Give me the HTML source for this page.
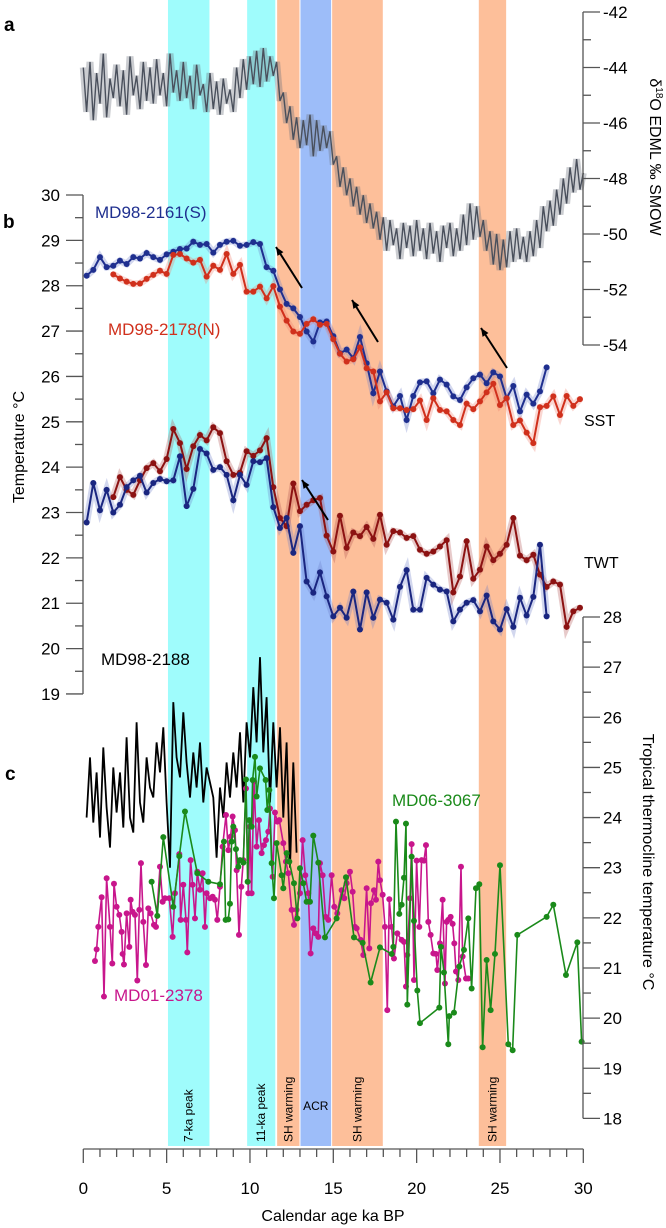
<!DOCTYPE html>
<html><head><meta charset="utf-8"><style>
html,body{margin:0;padding:0;background:#fff;}
svg{display:block;font-family:"Liberation Sans",Arial,sans-serif;}
</style></head><body>
<svg id="chart" width="666" height="1228" viewBox="0 0 666 1228" xmlns="http://www.w3.org/2000/svg">
<g id="bands"></g>
<g id="plot"></g>
<g id="axes"></g>
<text x="4" y="31" font-size="19" font-weight="bold">a</text>
<text x="3" y="228" font-size="19" font-weight="bold">b</text>
<text x="5" y="780" font-size="19" font-weight="bold">c</text>
<text x="95" y="218" font-size="17" fill="#1f2f8f">MD98-2161(S)</text>
<text x="108" y="335" font-size="17" fill="#d0301c">MD98-2178(N)</text>
<text x="584" y="426" font-size="16">SST</text>
<text x="584" y="568" font-size="16">TWT</text>
<text x="101" y="665" font-size="17">MD98-2188</text>
<text x="114" y="1001" font-size="17" fill="#c8168c">MD01-2378</text>
<text x="392" y="806" font-size="17" fill="#1a8a1a">MD06-3067</text>
<text transform="translate(650,157) rotate(90)" text-anchor="middle" font-size="16">δ<tspan font-size="10" dy="-6">18</tspan><tspan dy="6">O EDML ‰ SMOW</tspan></text>
<text transform="translate(24,447) rotate(-90)" text-anchor="middle" font-size="16">Temperature °C</text>
<text transform="translate(643,862) rotate(90)" text-anchor="middle" font-size="16">Tropical thermocline temperature °C</text>
<text x="333" y="1221" text-anchor="middle" font-size="16">Calendar age ka BP</text>
</svg>
<script>
const NS="http://www.w3.org/2000/svg";
const bandStart=[5.05,9.8,11.6,13.0,14.9,23.7];
const bandEnd=[7.6,11.55,13.0,14.9,18.0,25.4];
const bandColor=["#9ffcfc","#9ffcfc","#fdbf9a","#9dbdf9","#fdbf9a","#fdbf9a"];
const bandLabel=["7-ka peak","11-ka peak","SH warming","ACR","SH warming","SH warming"];

const edmlAge=[0,0.2,0.4,0.6,0.8,1,1.2,1.4,1.6,1.8,2,2.2,2.4,2.6,2.8,3,3.2,3.4,3.6,3.8,4,4.2,4.4,4.6,4.8,5,5.2,5.4,5.6,5.8,6,6.2,6.4,6.6,6.8,7,7.2,7.4,7.6,7.8,8,8.2,8.4,8.6,8.8,9,9.2,9.4,9.6,9.8,10,10.2,10.4,10.6,10.8,11,11.2,11.4,11.6,11.8,12,12.2,12.4,12.6,12.8,13,13.2,13.4,13.6,13.8,14,14.2,14.4,14.6,14.8,15,15.2,15.4,15.6,15.8,16,16.2,16.4,16.6,16.8,17,17.2,17.4,17.6,17.8,18,18.2,18.4,18.6,18.8,19,19.2,19.4,19.6,19.8,20,20.2,20.4,20.6,20.8,21,21.2,21.4,21.6,21.8,22,22.2,22.4,22.6,22.8,23,23.2,23.4,23.6,23.8,24,24.2,24.4,24.6,24.8,25,25.2,25.4,25.6,25.8,26,26.2,26.4,26.6,26.8,27,27.2,27.4,27.6,27.8,28,28.2,28.4,28.6,28.8,29,29.2,29.4,29.6,29.8,30];
const edmlVal=[-44.0,-45.6,-43.8,-45.9,-44.2,-45.3,-43.5,-45.8,-44.4,-45.1,
-43.9,-45.4,-44.1,-45.7,-43.6,-45.0,-44.3,-45.5,-43.8,-45.2,
-44.0,-45.3,-43.7,-45.0,-44.2,-45.4,-43.5,-44.9,-44.1,-45.2,
-43.8,-45.1,-44.3,-45.5,-43.9,-45.0,-44.6,-45.6,-44.2,-45.5,
-44.5,-45.7,-44.4,-45.3,-44.8,-45.6,-44.0,-45.1,-43.7,-44.8,
-43.6,-44.6,-43.4,-44.7,-43.3,-44.5,-43.6,-44.3,-43.8,-45.2,
-44.9,-46.0,-45.4,-46.6,-45.8,-46.9,-45.9,-46.8,-45.7,-47.2,
-45.9,-47.0,-46.1,-46.9,-46.3,-47.5,-47.2,-48.3,-47.6,-48.6,
-48.0,-49.0,-48.3,-49.3,-48.6,-49.6,-48.9,-49.8,-49.2,-50.2,
-49.4,-50.6,-49.5,-50.4,-49.8,-50.9,-49.6,-50.5,-49.7,-50.8,
-49.5,-50.6,-49.8,-50.9,-49.6,-50.7,-49.9,-51.0,-49.7,-50.5,
-49.6,-50.8,-49.8,-50.6,-49.3,-50.4,-48.9,-50.2,-49.0,-50.1,
-49.5,-50.6,-49.9,-51.1,-50.0,-51.3,-50.2,-51.2,-49.9,-51.0,
-49.8,-50.9,-50.1,-51.0,-49.9,-50.8,-49.5,-50.5,-49.0,-49.9,
-48.8,-49.7,-48.4,-49.3,-48.0,-48.9,-47.6,-48.5,-47.3,-48.4,-47.8];

const sAge=[0.2,0.6,1.0,1.4,1.8,2.2,2.6,3.0,3.4,3.8,4.2,4.6,5.0,5.4,5.8,6.2,6.6,7.0,7.4,7.8,8.2,8.6,9.0,9.4,9.8,10.2,10.6,11.0,11.4,11.8,12.2,12.6,13.0,13.4,13.8,14.2,14.6,15.0,15.4,15.8,16.2,16.6,17.0,17.4,17.8,18.2,18.6,19.0,19.4,19.8,20.2,20.6,21.0,21.4,21.8,22.2,22.6,23.0,23.4,23.8,24.2,24.6,25.0,25.4,25.8,26.2,26.6,27.0,27.4,27.8];
const nAge=[1.8,2.2,2.6,3.0,3.4,3.8,4.2,4.6,5.0,5.4,5.8,6.2,6.6,7.0,7.4,7.8,8.2,8.6,9.0,9.4,9.8,10.2,10.6,11.0,11.4,11.8,12.2,12.6,13.0,13.4,13.8,14.2,14.6,15.0,15.4,15.8,16.2,16.6,17.0,17.4,17.8,18.2,18.6,19.0,19.4,19.8,20.2,20.6,21.0,21.4,21.8,22.2,22.6,23.0,23.4,23.8,24.2,24.6,25.0,25.4,25.8,26.2,26.6,27.0,27.4,27.8,28.2,28.6,29.0,29.4,29.8];
const sstS=[28.22,28.35,28.63,28.41,28.44,28.55,28.48,28.63,28.60,28.72,28.63,28.57,28.69,28.75,28.81,28.82,28.97,28.90,28.92,28.73,28.90,28.97,28.99,28.88,28.90,28.96,28.92,28.41,28.33,27.92,27.60,27.50,27.31,26.99,26.77,27.19,27.21,26.89,26.51,26.59,26.40,26.87,26.29,25.63,26.11,25.67,25.34,25.57,25.04,25.57,25.87,25.89,25.63,25.93,25.82,25.56,25.48,25.76,25.96,26.04,25.85,26.09,26.00,25.52,25.79,25.23,25.60,25.40,25.67,26.20];
const sstN=[28.25,28.16,28.09,28.04,28.05,28.15,28.24,28.33,28.26,28.68,28.70,28.60,28.51,28.57,28.20,28.44,28.35,28.70,28.26,28.46,27.87,27.87,27.98,27.72,27.99,27.54,27.23,26.99,26.94,27.16,27.26,27.14,27.16,26.82,26.50,26.33,26.38,26.64,26.18,26.11,25.45,25.65,25.30,25.30,25.26,25.28,25.47,25.04,25.52,25.26,25.23,25.04,24.93,25.40,25.28,25.45,25.65,25.84,25.37,25.52,24.93,25.03,24.76,24.53,25.32,25.35,25.56,25.15,25.57,25.35,25.50];
const twtS=[22.78,23.65,23.05,23.50,23.00,23.17,23.56,23.71,23.81,23.44,23.65,23.74,23.69,23.71,24.24,23.14,23.52,24.40,24.30,23.94,24.00,23.83,23.27,23.83,23.61,24.13,24.11,24.20,23.12,22.66,22.88,22.11,22.70,21.48,21.23,21.68,21.15,20.71,20.90,20.68,21.26,20.42,21.24,20.68,21.08,21.01,20.64,21.36,21.73,20.86,20.86,21.56,21.41,21.30,21.26,20.60,20.86,21.01,21.07,20.82,21.17,20.60,20.42,20.87,20.48,21.12,20.73,21.14,22.29,20.71];
const twtN=[23.34,23.78,23.50,23.39,23.71,23.98,24.09,23.91,24.18,24.84,24.53,23.96,24.46,24.71,24.59,24.88,24.75,24.13,23.83,23.88,24.35,24.25,24.37,24.64,23.56,22.88,22.70,23.64,23.03,23.17,23.27,23.32,22.49,22.14,22.93,22.22,22.56,22.48,22.68,22.42,22.95,22.29,22.59,22.56,22.44,22.48,22.18,22.09,22.14,22.25,22.39,21.24,21.59,22.37,21.54,21.74,22.25,21.95,22.09,22.29,22.88,22.05,21.95,22.07,21.63,21.36,21.48,21.41,20.48,20.82,20.90];

const blkAge=[0.2,0.4,0.6,0.8,1.0,1.2,1.4,1.6,1.8,2.0,2.2,2.4,2.6,2.8,3.0,3.2,3.4,3.6,3.8,4.0,4.2,4.4,4.6,4.8,5.0,5.2,5.4,5.6,5.8,6.0,6.2,6.4,6.6,6.8,7.0,7.2,7.4,7.6,7.8,8.0,8.2,8.4,8.6,8.8,9.0,9.2,9.4,9.6,9.8,10.0,10.2,10.4,10.6,10.8,11.0,11.2,11.4,11.6,11.8,12.0,12.2,12.4,12.6,12.8];
const blkVal=[24.0,25.2,23.9,24.9,23.6,25.4,24.2,23.4,25.0,24.1,24.9,23.8,25.6,24.0,23.7,25.9,24.3,23.9,25.2,24.6,24.4,25.5,24.9,25.8,24.3,23.0,26.3,25.2,24.8,26.1,25.1,24.4,25.3,24.6,25.5,24.3,25.0,24.7,24.4,23.2,24.6,24.0,25.1,24.4,25.3,24.6,25.7,24.3,25.9,25.2,26.6,25.5,27.2,25.3,26.4,24.3,25.9,24.6,25.8,24.0,25.5,23.0,25.1,23.3];

const magAge=[0.70,0.80,0.90,1.10,1.24,1.40,1.60,1.74,1.84,2.00,2.16,2.30,2.36,2.44,2.60,2.76,2.84,2.96,3.10,3.24,3.36,3.46,3.60,3.76,3.90,4.04,4.24,4.36,4.60,4.76,4.90,5.16,5.36,5.50,5.76,5.84,6.00,6.16,6.24,6.44,6.56,6.70,6.84,7.00,7.16,7.30,7.40,7.60,7.76,7.90,8.04,8.20,8.36,8.56,8.70,8.84,8.96,9.10,9.20,9.34,9.48,9.60,9.76,9.90,10.00,10.10,10.24,10.40,10.54,10.70,10.84,10.96,11.10,11.20,11.36,11.50,11.64,11.76,12.00,12.16,12.30,12.50,12.64,12.80,13.00,13.16,13.32,13.50,13.64,13.80,13.94,14.10,14.20,14.36,14.54,14.70,14.90,15.06,15.24,15.50,15.66,15.80,16.00,16.16,16.30,16.40,16.64,16.80,17.00,17.16,17.26,17.44,17.56,17.70,17.80,17.96,18.10,18.24,18.36,18.50,18.64,18.84,19.10,19.24,19.36,19.44,19.60,19.70,19.84,20.00,20.16,20.30,20.44,20.56,20.70,20.84,21.00,21.16,21.24,21.40,21.56,21.70,21.80,21.90,22.04,22.16,22.26,22.36,22.50,22.66,22.76,22.96,23.10];
const magVal=[21.14,21.37,21.82,22.41,20.43,22.79,21.82,21.09,22.68,22.22,22.06,21.72,21.28,21.07,22.09,21.42,22.36,22.12,22.06,20.75,22.16,23.09,21.92,21.06,22.19,22.09,21.86,21.82,23.02,22.32,22.39,22.39,21.62,22.49,23.27,21.96,22.66,21.96,21.31,23.15,22.66,21.99,22.92,22.56,22.89,21.82,22.49,22.39,22.42,22.36,21.96,22.62,23.42,24.05,23.35,23.62,24.02,23.75,22.95,21.66,22.62,23.15,24.58,22.49,23.82,22.49,24.72,23.42,23.95,23.29,23.45,23.55,23.72,24.18,22.82,24.10,23.92,23.95,23.49,23.12,22.89,22.16,21.86,22.16,22.49,23.55,22.85,22.49,21.29,21.79,21.69,21.62,23.09,22.85,22.02,21.96,22.85,22.22,22.09,22.55,22.39,22.69,22.92,22.52,21.82,21.79,21.56,21.26,22.59,21.39,22.29,22.55,22.36,23.12,22.75,22.46,21.82,20.16,22.37,21.82,21.19,21.69,21.56,21.52,20.63,21.26,22.39,23.47,20.76,23.14,21.82,23.15,23.14,23.45,21.92,21.66,21.29,21.28,20.96,21.49,22.36,20.69,21.92,21.96,22.02,21.88,21.49,20.93,20.76,23.02,21.23,20.79,20.79];

const grnAge=[4.10,4.44,4.80,5.40,5.76,6.10,6.84,7.50,8.20,8.44,8.54,8.70,8.80,8.90,9.00,9.16,9.30,9.40,9.60,9.76,9.86,9.96,10.10,10.16,10.30,10.40,10.60,10.94,11.04,11.16,11.30,11.44,11.60,11.90,12.00,12.20,12.36,12.64,12.84,13.00,13.20,13.40,13.60,13.80,14.10,14.50,15.20,15.76,16.24,16.76,17.24,17.80,18.50,18.60,18.76,18.96,19.10,19.24,19.36,19.44,19.70,19.84,20.04,20.20,21.36,21.46,21.64,21.90,21.96,22.24,22.56,22.84,23.10,23.30,23.56,23.76,23.96,24.20,24.44,24.70,25.00,25.50,25.76,26.04,27.80,28.20,28.96,29.64,29.90];
const grnVal=[22.72,22.04,23.61,22.22,23.23,24.12,22.89,22.72,22.67,23.52,21.96,21.97,22.28,23.52,23.82,23.37,23.02,23.15,23.10,24.76,22.72,23.95,23.82,24.75,25.21,24.42,24.98,24.75,24.15,24.55,23.09,22.39,23.49,22.85,22.59,23.29,23.12,22.69,21.99,22.99,22.69,22.32,22.32,23.64,23.10,21.61,21.99,22.81,21.61,21.50,20.71,21.41,21.28,21.42,23.92,22.08,22.26,22.80,23.88,20.27,23.22,21.94,20.55,19.90,20.21,21.42,20.91,19.48,20.04,20.11,21.03,21.36,21.99,20.59,22.59,22.67,19.42,21.16,20.16,21.28,23.05,19.48,19.36,21.66,22.02,22.26,20.86,21.51,19.53];

const aTicks=[-42,-44,-46,-48,-50,-52,-54];
const bTicks=[30,29,28,27,26,25,24,23,22,21,20,19];
const cTicks=[28,27,26,25,24,23,22,21,20,19,18];
const xTicks=[0,5,10,15,20,25,30];

function xS(k){return 83.3+k*16.667;}
function yA(v){return 12+(-42-v)*27.75;}
function yB(v){return 195+(30-v)*45.36;}
function yC(v){return 617+(28-v)*50.14;}
function mk(tag,attrs,parent){const e=document.createElementNS(NS,tag);for(const k in attrs)e.setAttribute(k,attrs[k]);parent.appendChild(e);return e;}
const bandsG=document.getElementById('bands'),plot=document.getElementById('plot'),axes=document.getElementById('axes');

bandStart.forEach((s,i)=>{
  const r=mk('rect',{x:xS(s)+0.5,y:0,width:xS(bandEnd[i])-xS(s)-1,height:1146,fill:bandColor[i]},bandsG);
  
  
  const cx=(xS(s)+xS(bandEnd[i]))/2;
  let t;
  if(bandLabel[i]==='ACR'){t=mk('text',{x:cx,y:1110,'text-anchor':'middle','font-size':12},bandsG);}
  else{t=mk('text',{transform:`translate(${cx+4},1142) rotate(-90)`,'font-size':12},bandsG);}
  t.textContent=bandLabel[i];
  
  
});

function line(ages,vals,ys,color,w,name,op){
  const d=ages.map((a,i)=>(i?'L':'M')+xS(a).toFixed(1)+','+ys(vals[i]).toFixed(1)).join('');
  const p=mk('path',{d:d,fill:'none',stroke:color,'stroke-width':w,'stroke-linejoin':'miter',opacity:op||1},plot);
  
  
}
function dots(ages,vals,ys,color,name){
  ages.forEach((a,i)=>{
    const c=mk('circle',{cx:xS(a),cy:ys(vals[i]),r:3,fill:color},plot);
    
    
  });
}
line(edmlAge,edmlVal,yA,'#6a707c',7,'edml-series-band',0.35);
line(edmlAge,edmlVal,yA,'#4a505c',1.4,'edml-series');
line(sAge,sstS,yB,'#6a7cc8',7,'sst-s-raw',0.3);
line(nAge,sstN,yB,'#f07a6a',7,'sst-n-raw',0.3);
line(sAge,twtS,yB,'#6a7cc8',7,'twt-s-raw',0.3);
line(nAge,twtN,yB,'#b05050',7,'twt-n-raw',0.3);
line(sAge,sstS,yB,'#1f2f8f',2,'sst-md98-2161-line');dots(sAge,sstS,yB,'#1f2f8f','sst-md98-2161-point');
line(nAge,sstN,yB,'#d0301c',2,'sst-md98-2178-line');dots(nAge,sstN,yB,'#d0301c','sst-md98-2178-point');
line(nAge,twtN,yB,'#8c1212',2,'twt-md98-2178-line');dots(nAge,twtN,yB,'#8c1212','twt-md98-2178-point');
line(sAge,twtS,yB,'#1a2680',2,'twt-md98-2161-line');dots(sAge,twtS,yB,'#1a2680','twt-md98-2161-point');
line(blkAge,blkVal,yC,'#000',1.8,'md98-2188-line');
line(magAge,magVal,yC,'#c8168c',1.6,'md01-2378-line');dots(magAge,magVal,yC,'#c8168c','md01-2378-point');
line(grnAge,grnVal,yC,'#1a8a1a',1.6,'md06-3067-line');dots(grnAge,grnVal,yC,'#1a8a1a','md06-3067-point');

[[302,288,276,247],[378,342,352,300],[507,368,481,328],[328,520,302,480]].forEach(a=>{
  const l=mk('line',{x1:a[0],y1:a[1],x2:a[2],y2:a[3],stroke:'#000','stroke-width':2},plot);
  
  
  const ang=Math.atan2(a[3]-a[1],a[2]-a[0]);
  const p=[[a[2],a[3]],[a[2]-9*Math.cos(ang-0.4),a[3]-9*Math.sin(ang-0.4)],[a[2]-9*Math.cos(ang+0.4),a[3]-9*Math.sin(ang+0.4)]];
  const h=mk('polygon',{points:p.map(q=>q.join(',')).join(' '),fill:'#000'},plot);
  
  
});

const AX='#555';
function vAxis(x,y1,y2,dir,ys,vmax,vmin,step,majors,labX,anchor,name){
  const g=mk('g',{},axes);
  
  
  mk('line',{x1:x,y1:y1,x2:x,y2:y2,stroke:AX,'stroke-width':1.3},g);
  for(let v=vmax;v>=vmin-1e-6;v-=step){
    const maj=majors.some(m=>Math.abs(m-v)<1e-6);
    const y=ys(v);
    mk('line',{x1:x,y1:y,x2:x+dir*(maj?17:8),y2:y,stroke:AX,'stroke-width':1.3},g);
  }
  majors.forEach(m=>{const t=mk('text',{x:labX,y:ys(m)+6,'text-anchor':anchor,'font-size':17},g);t.textContent=m;});
}
vAxis(583,yA(-42),yA(-54),1,yA,-42,-54,1,aTicks,603,'start','edml-axis');
vAxis(83,yB(30),yB(19),-1,yB,30,19,0.5,bTicks,60,'end','temperature-axis');
vAxis(583,yC(28),yC(18),1,yC,28,18,0.5,cTicks,603,'start','thermocline-axis');

const xg=mk('g',{},axes);


mk('line',{x1:xS(0),y1:1149,x2:xS(30),y2:1149,stroke:AX,'stroke-width':1.3},xg);
for(let k=0;k<=30;k++){const maj=k%5===0;mk('line',{x1:xS(k),y1:1149,x2:xS(k),y2:1149+(maj?14:8),stroke:AX,'stroke-width':1.3},xg);}
xTicks.forEach(k=>{const t=mk('text',{x:xS(k),y:1194,'text-anchor':'middle','font-size':17},xg);t.textContent=k;});
</script>
</body></html>
